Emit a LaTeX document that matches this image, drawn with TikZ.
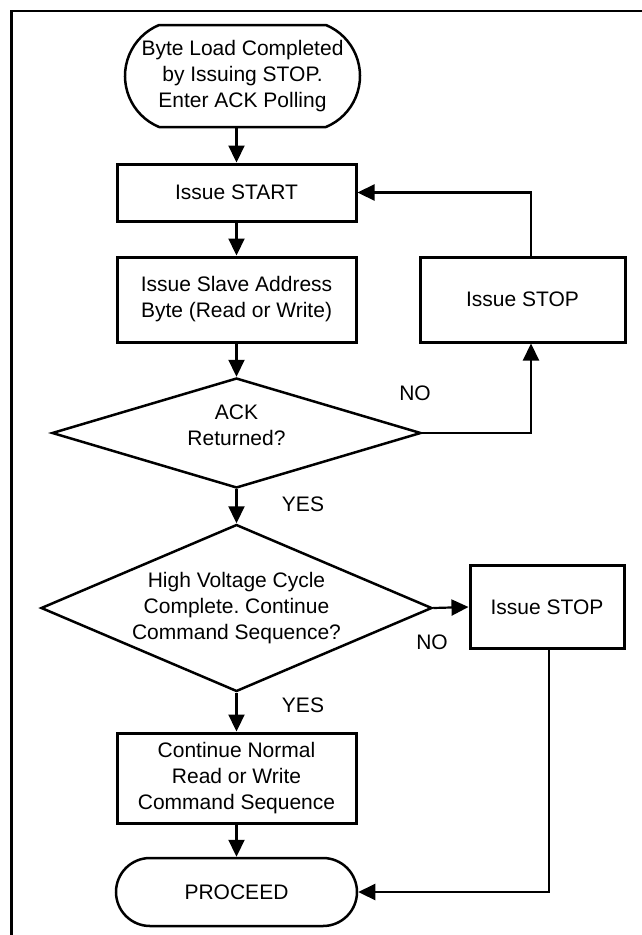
\documentclass[tikz,border=0pt]{standalone}
\usepackage{fontspec}
\setmainfont{Liberation Sans}
\usetikzlibrary{arrows.meta,shapes.geometric,shapes.misc}
\frenchspacing

\begin{document}
\begin{tikzpicture}[
        x=1pt, y=-1pt,
        >={Triangle[length=17pt,width=16pt]},
        font=\fontsize{21}{26}\selectfont,
        box/.style={rectangle, draw, line width=3pt, align=center, inner sep=0pt},
        term/.style={rounded rectangle, draw, line width=2.5pt, align=center, inner sep=0pt},
        decision/.style={diamond, draw, line width=2.5pt, align=center, inner sep=0pt},
        flow/.style={->, line width=2.2pt},
        lbl/.style={inner sep=0pt}
    ]

    \useasboundingbox (0,0) rectangle (642,935);

    % Marco
    \draw[line width=2.5pt] (642,11) -- (11.5,11) -- (11.5,935);

    % Nodos
    \node[term, minimum width=235pt, minimum height=102pt, rounded rectangle arc length=135] (load) at (242.5,76) {Byte Load Completed\\by Issuing STOP.\\Enter ACK Polling};
    \node[box, minimum width=239pt, minimum height=57pt] (start) at (236.5,192.5) {Issue START};
    \node[box, minimum width=239pt, minimum height=85pt] (slave) at (236.5,299.5) {Issue Slave Address\\Byte (Read or Write)};
    \node[box, minimum width=205pt, minimum height=85pt] (stopa) at (522.5,299.5) {Issue STOP};
    \node[decision, minimum width=369pt, minimum height=110pt, aspect=3.35, text depth=16pt] (ack) at (236.5,433) {ACK\\Returned?};
    \node[decision, minimum width=391pt, minimum height=167pt, aspect=2.34] (hv) at (236.5,608) {High Voltage Cycle\\Complete. Continue\\Command Sequence?};
    \node[box, minimum width=154pt, minimum height=83pt] (stopb) at (547,607) {Issue STOP};
    \node[box, minimum width=239pt, minimum height=90pt] (cont) at (236.5,778) {Continue Normal\\Read or Write\\Command Sequence};
    \node[term, minimum width=241pt, minimum height=68pt] (proceed) at (236.5,892) {PROCEED};

    % Flechas
    \draw[flow] (load.south -| start.north) -- (start.north);
    \draw[flow] (start) -- (slave);
    \draw[flow] (slave) -- (ack);
    \draw[flow] (ack) -- (hv);
    \draw[flow] (hv) -- (cont);
    \draw[flow] (cont) -- (proceed);

    \draw[flow] (ack.east) -| ([xshift=8.5pt]stopa.south);
    \draw[flow] ([xshift=8.5pt]stopa.north) |- (start.east);
    \draw[flow] (hv.east) -- (stopb.west);
    \draw[flow] ([xshift=2pt]stopb.south) |- (proceed.east);

    % Etiquetas
    \node[lbl] (noa) at (415,393) {NO};
    \node[lbl] (yesa) at (303,504) {YES};
    \node[lbl] (nob) at (432,642) {NO};
    \node[lbl] (yesb) at (303,705) {YES};

\end{tikzpicture}
\end{document}
